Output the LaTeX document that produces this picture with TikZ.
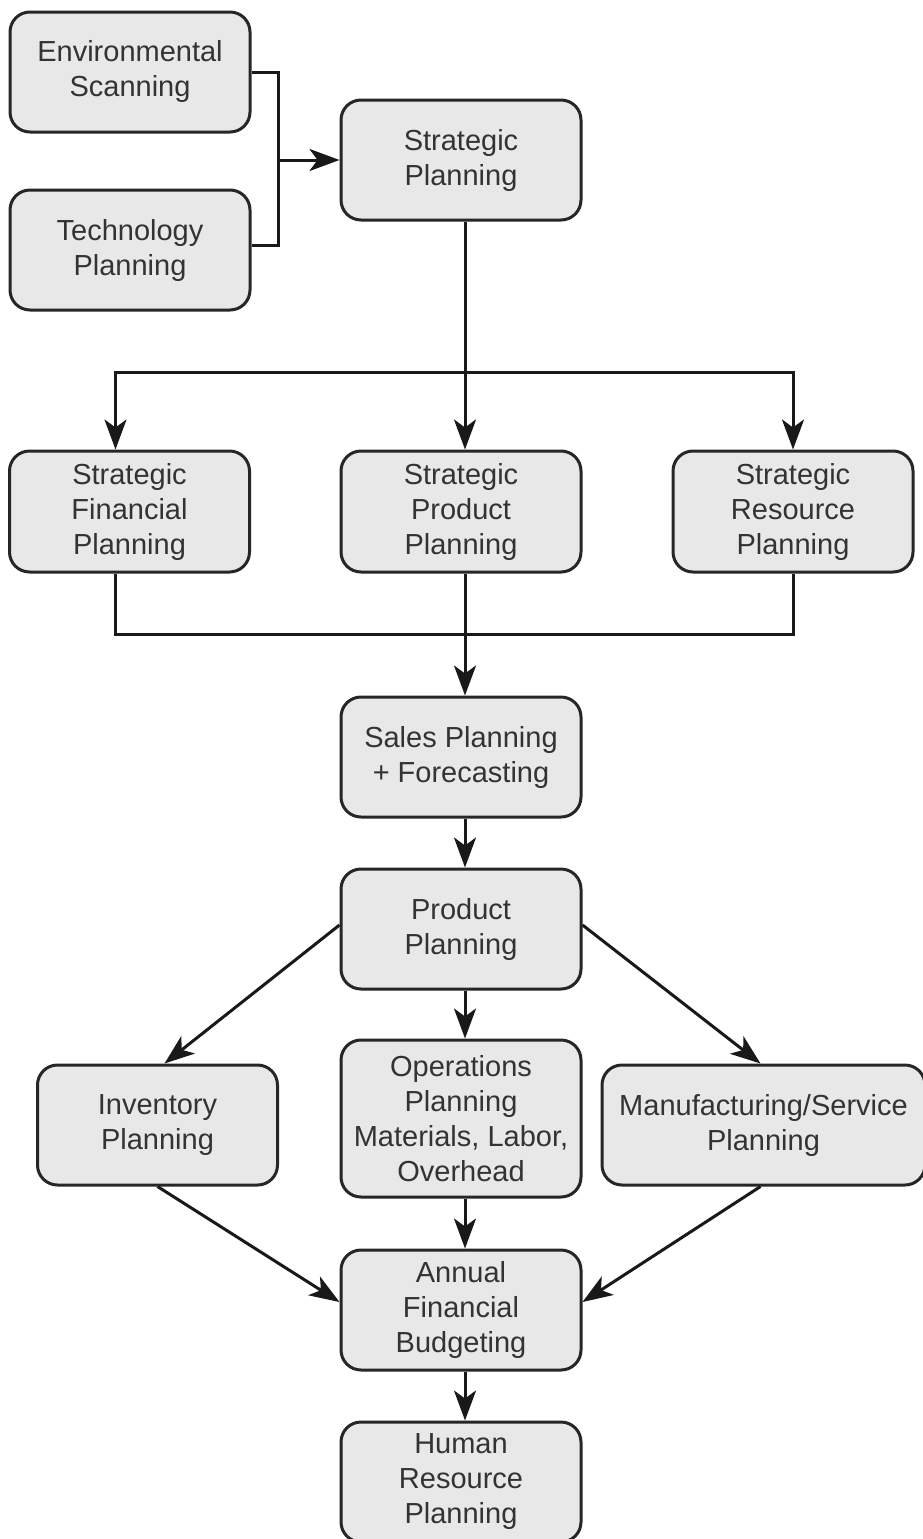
\documentclass[tikz,border=0pt]{standalone}
\usepackage{fontspec}
\setmainfont{Liberation Sans}
\usetikzlibrary{arrows.meta}
\begin{document}
\begin{tikzpicture}[x=1pt,y=-1pt,
  box/.style={draw=black!85, line width=3pt, fill=black!9, rounded corners=20pt,
    minimum width=240pt, minimum height=120pt, inner sep=0pt, align=center,
    font=\fontsize{29}{35}\selectfont, text=black!80,
    execute at begin node={\rule{0pt}{29pt}}},
  conn/.style={line width=3pt, draw=black!90},
  arr/.style={conn, -{Stealth[length=30pt,width=22pt,inset=8pt]}}]
\useasboundingbox (0,0) rectangle (923,1539);
\clip (0,0) rectangle (923,1539);
\node[box] (env) at (130,72) {Environmental\\Scanning};
\node[box] (tech) at (130,250) {Technology\\Planning};
\node[box] (sp) at (461,160) {Strategic\\Planning};
\node[box, minimum height=121pt] (sfp) at (129.5,511.5) {Strategic\\Financial\\Planning};
\node[box, minimum height=121pt] (spp) at (461,511.5) {Strategic\\Product\\Planning};
\node[box, minimum height=121pt] (srp) at (793,511.5) {Strategic\\Resource\\Planning};
\node[box] (sales) at (461,757) {Sales Planning\\+ Forecasting};
\node[box] (prod) at (461,929) {Product\\Planning};
\node[box] (inv) at (157.5,1125) {Inventory\\Planning};
\node[box, minimum height=157pt] (ops) at (461,1118.5) {Operations\\Planning\\Materials, Labor,\\Overhead};
\node[box, minimum width=323pt] (man) at (763.5,1125) {Manufacturing/Service\\Planning};
\node[box] (ann) at (461,1310) {Annual\\Financial\\Budgeting};
\node[box] (hr) at (461,1482) {Human\\Resource\\Planning};
% connectors
\coordinate (j1) at (278,160);
\draw[conn] (env.east) -| (j1) |- ([yshift=5pt]tech.east);
\draw[arr] (j1) -- (sp.west);
\draw[arr] ([xshift=4pt]sp.south) -- ([xshift=4pt]spp.north);
\coordinate (h1) at (465,372);
\draw[arr] (h1) -| ([xshift=-14pt]sfp.north);
\draw[arr] (h1) -| (srp.north);
\coordinate (b1) at (115.5,634);
\coordinate (b2) at (793,634);
\draw[conn] ([xshift=-14pt]sfp.south) -- (b1) -- (b2) -- (srp.south);
\draw[arr] ([xshift=4pt]spp.south) -- ([xshift=4pt]sales.north);
\draw[arr] ([xshift=4pt]sales.south) -- ([xshift=4pt]prod.north);
\draw[arr] ([xshift=4pt]prod.south) -- ([xshift=4pt]ops.north);
\draw[arr] ([yshift=4pt]prod.west) -- ([xshift=7pt]inv.north);
\draw[arr] ([yshift=4pt]prod.east) -- ([xshift=-3pt]man.north);
\draw[arr] ([xshift=4pt]ops.south) -- ([xshift=4pt]ann.north);
\draw[arr] (inv.south) -- ([yshift=8pt]ann.west);
\draw[arr] ([xshift=-3pt]man.south) -- ([yshift=8pt]ann.east);
\draw[arr] ([xshift=4pt]ann.south) -- ([xshift=4pt]hr.north);
\end{tikzpicture}
\end{document}
